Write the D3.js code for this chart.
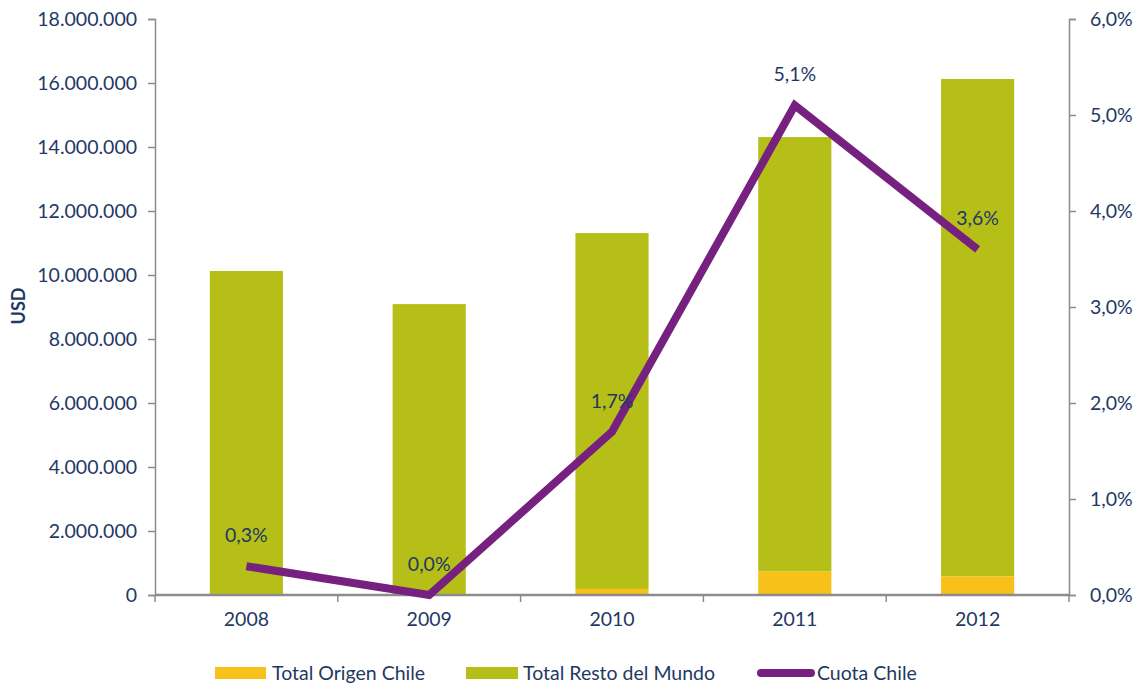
<!DOCTYPE html>
<html><head><meta charset="utf-8">
<script src="https://cdn.jsdelivr.net/npm/d3@7/dist/d3.min.js"></script>
<style>body{margin:0;background:#fff}svg{display:block}text{font-family:Lato,"Open Sans",sans-serif}</style>
</head><body><svg id="c" width="1139" height="684"></svg>
<script>
const years = ["2008","2009","2010","2011","2012"];
const chileValues = [30000, 0, 190000, 730000, 580000];
const restValues = [10095000, 9090000, 11120000, 13580000, 15545000];
const shareValues = [0.3, 0.0, 1.7, 5.1, 3.6];
const shareLabels = ["0,3%","0,0%","1,7%","5,1%","3,6%"];
const leftTicks = [0,2e6,4e6,6e6,8e6,10e6,12e6,14e6,16e6,18e6];
const rightTicks = [0,1,2,3,4,5,6];

const FS = "19.5px";
const svg = d3.select("#c");
const m = {l:155, r:1069, t:19, b:595};
const navy = "#1f3864", grey = "#8c8c8c";
const x = d3.scaleBand().domain(years).range([m.l, m.r]).paddingInner(0.6).paddingOuter(0.3);
const xStep = d3.scaleBand().domain(years).range([m.l, m.r]);
const y = d3.scaleLinear().domain([0,18e6]).range([m.b, m.t]);
const y2 = d3.scaleLinear().domain([0,6]).range([m.b, m.t]);
const fmt = v => d3.format(",")(v).replace(/,/g,".");

// bars
const g = svg.append("g");
years.forEach((yr,i)=>{
  const c = chileValues[i], r = restValues[i];
  g.append("rect").attr("x", x(yr)).attr("width", x.bandwidth())
    .attr("y", y(c+r)).attr("height", y(c)-y(c+r)).attr("fill","#b5bf17");
  g.append("rect").attr("x", x(yr)).attr("width", x.bandwidth())
    .attr("y", y(c)).attr("height", y(0)-y(c)).attr("fill","#f8c11a");
});

// axes
function style(a){
  a.select(".domain").attr("stroke",grey).attr("stroke-width",1.5);
  a.selectAll(".tick line").attr("stroke",grey).attr("stroke-width",1.5);
  a.selectAll("text").attr("fill",navy).attr("font-size",FS);
}
svg.append("g").attr("transform",`translate(${m.l},0)`)
  .call(d3.axisLeft(y).tickValues(leftTicks).tickFormat(fmt).tickSize(7).tickSizeOuter(7).tickPadding(11))
  .call(style);
svg.append("g").attr("transform",`translate(${m.r},0)`)
  .call(d3.axisRight(y2).tickValues(rightTicks).tickFormat(d=>d3.format(".1f")(d).replace(".",",")+"%").tickSize(7).tickSizeOuter(7).tickPadding(14))
  .call(style);
const xa = svg.append("g").attr("transform",`translate(0,${m.b})`)
  .call(d3.axisBottom(x).tickSize(0).tickPadding(17));
style(xa);
xa.select(".domain").attr("d",`M${m.l},0H${m.r}`).attr("stroke-width",2.5);
xa.selectAll(".bnd").data(years.concat(["end"])).enter().append("line")
  .attr("x1",(d,i)=> i<years.length ? xStep(d) : m.r).attr("x2",(d,i)=> i<years.length ? xStep(d) : m.r)
  .attr("y1",0).attr("y2",7).attr("stroke",grey).attr("stroke-width",1.5);

// line
const cx = yr => x(yr) + x.bandwidth()/2;
svg.append("path").datum(shareValues)
  .attr("d", d3.line().x((d,i)=>cx(years[i])).y(d=>y2(d)))
  .attr("fill","none").attr("stroke","#76207f").attr("stroke-width",8).attr("stroke-linejoin","miter");
svg.selectAll(".lab").data(shareValues).enter().append("text")
  .attr("x",(d,i)=>cx(years[i])).attr("y",d=>y2(d)-24).attr("text-anchor","middle")
  .attr("fill",navy).attr("font-size",FS).text((d,i)=>shareLabels[i]);

// y title
svg.append("text").attr("transform","translate(25,306) rotate(-90)").attr("text-anchor","middle")
  .attr("fill",navy).attr("font-size","18px").attr("font-weight","bold").text("USD");

// legend
const lg = svg.append("g").attr("transform","translate(0,673)");
lg.append("rect").attr("x",215).attr("y",-6).attr("width",51).attr("height",12).attr("fill","#f8c11a");
lg.append("text").attr("x",272).attr("y",7).attr("fill",navy).attr("font-size",FS).text("Total Origen Chile");
lg.append("rect").attr("x",466).attr("y",-6).attr("width",52).attr("height",12).attr("fill","#b5bf17");
lg.append("text").attr("x",523).attr("y",7).attr("fill",navy).attr("font-size",FS).text("Total Resto del Mundo");
lg.append("line").attr("x1",761).attr("x2",811).attr("y1",0).attr("y2",0).attr("stroke","#76207f").attr("stroke-width",8).attr("stroke-linecap","round");
lg.append("text").attr("x",817).attr("y",7).attr("fill",navy).attr("font-size",FS).text("Cuota Chile");
</script></body></html>
